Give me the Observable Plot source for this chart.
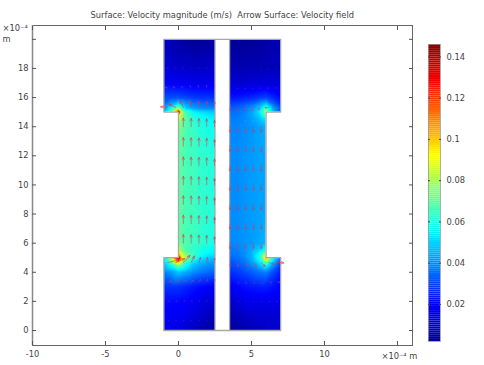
<!DOCTYPE html>
<html>
<head>
<meta charset="utf-8">
<script src="https://cdn.jsdelivr.net/npm/d3@7"></script>
<script src="https://cdn.jsdelivr.net/npm/@observablehq/plot@0.6"></script>
<style>
html,body{margin:0;padding:0;background:#fff;}
#wrap{position:relative;width:484px;height:365px;overflow:hidden;}
#wrap svg{position:absolute;left:0;top:0;background:transparent;font-family:"DejaVu Sans",sans-serif;}
</style>
</head>
<body>
<div id="wrap"></div>
<script>
// Speed field, in thousandths of m/s
const rowY = [20,19,18,17,16,15.5,15.25,15,14.75,14.5,14,12,10,8,6,5.5,5.25,5,4.75,4.5,4,3,2,1,0];
const leftX = [-1,-0.5,0,0.25,0.5,1,1.5,2,2.5];
const rightX = [3.5,4,4.5,5,5.5,5.75,6,6.5,7];
const leftField = [
 [11,8,6,5,4,3,3,4,6],
 [12,10,8,8,8,7,7,8,9],
 [14,13,12,12,12,11,11,12,13],
 [20,19,18,18,18,17,17,17,17],
 [30,31,31,30,29,28,27,27,27],
 [37,46,56,49,44,39,37,36,36],
 [42,58,80,60,50,44,41,40,40],
 [44,75,146,80,66,56,52,50,48],
 [98,98,98,76,68,60,56,54,52],
 [86,86,86,73,68,62,59,56,54],
 [74,74,74,70,67,64,61,59,57],
 [69,69,69,68,66,65,63,62,60],
 [69,69,69,68,66,65,63,62,60],
 [69,69,69,68,66,65,63,62,60],
 [72,72,72,68,67,65,63,61,59],
 [85,85,85,74,68,63,60,57,55],
 [105,105,105,85,74,65,59,55,53],
 [52,90,146,95,78,62,54,50,48],
 [52,72,108,80,66,54,48,45,44],
 [46,58,78,66,58,48,44,41,40],
 [38,42,48,46,44,40,37,35,34],
 [27,27,27,26,25,23,21,20,19],
 [21,21,21,20,20,18,16,14,13],
 [19,19,18,18,17,15,12,10,8],
 [17,16,15,14,12,10,8,6,4]
];
const rightField = [
 [4,3,3,3,4,5,6,7,8],
 [6,5,5,6,6,7,7,8,8],
 [8,8,8,8,8,9,9,9,9],
 [13,13,13,14,14,14,14,14,14],
 [23,23,24,25,27,28,29,25,21],
 [30,31,33,36,42,47,52,36,27],
 [33,34,36,41,48,56,66,44,31],
 [35,36,38,43,52,62,84,46,32],
 [37,37,39,43,49,56,68,68,68],
 [38,38,39,42,46,50,54,54,54],
 [39,39,40,41,43,44,46,46,46],
 [40,40,41,42,43,43,44,44,44],
 [40,40,41,42,43,43,44,44,44],
 [40,40,41,42,43,43,44,44,44],
 [39,40,41,42,44,45,47,47,47],
 [37,38,40,44,50,54,60,60,60],
 [36,37,40,45,56,66,78,78,78],
 [34,36,39,45,58,72,108,56,36],
 [32,34,37,43,54,62,80,50,32],
 [30,32,35,40,47,52,58,42,28],
 [26,28,30,33,36,37,38,30,24],
 [18,20,22,23,24,24,24,22,20],
 [12,14,16,17,17,17,17,17,16],
 [7,9,11,12,13,13,13,13,13],
 [4,5,7,9,10,11,12,12,12]
];
// Arrow samples: [x, y, u, v] with u, v in thousandths of m/s
const arrowX = [-0.733,-0.2,0.333,0.867,1.4,1.933,2.467,3.533,4.067,4.6,5.133,5.667,6.2,6.733];
const arrowRowY = [18,16.667,15.333,14,12.667,11.333,10,8.667,7.333,6,4.667,3.333,2,0.667];
const arrowU = [
 [-6,-5,-4,-3,-2,-1,0,0,-1,-1,-2,-3,-4,-4],
 [-24,-20,-16,-10,-6,-2,0,-1,-2,-4,-6,-8,-10,-11],
 [-55,-50,-28,-10,-3,0,0,0,0,-3,-10,-22,-30,-30],
 [null,null,0,0,0,0,0,0,0,0,0,0,null,null],
 [null,null,0,0,0,0,0,0,0,0,0,0,null,null],
 [null,null,0,0,0,0,0,0,0,0,0,0,null,null],
 [null,null,0,0,0,0,0,0,0,0,0,0,null,null],
 [null,null,0,0,0,0,0,0,0,0,0,0,null,null],
 [null,null,0,0,0,0,0,0,0,0,0,0,null,null],
 [null,null,0,0,0,0,0,0,0,0,0,0,null,null],
 [85,70,50,25,12,5,0,0,3,12,22,30,40,55],
 [30,28,26,20,12,6,2,2,4,6,10,14,20,25],
 [13,12,11,9,6,4,1,1,1,2,3,4,5,6],
 [6,5,5,4,3,2,1,0,1,1,1,1,2,2]
];
const arrowV = [
 [1,1,2,3,4,4,5,0,0,0,-1,-1,-1,0],
 [4,8,12,16,18,20,18,-5,-6,-6,-5,-4,-3,-1],
 [4,22,50,50,48,45,45,-28,-30,-30,-28,-18,-4,-1],
 [null,null,66,64,62,60,50,-42,-42,-42,-42,-42,null,null],
 [null,null,66,64,62,60,50,-42,-42,-42,-42,-42,null,null],
 [null,null,66,64,62,60,50,-42,-42,-42,-42,-42,null,null],
 [null,null,66,64,62,60,50,-42,-42,-42,-42,-42,null,null],
 [null,null,66,64,62,60,50,-42,-42,-42,-42,-42,null,null],
 [null,null,66,64,62,60,50,-42,-42,-42,-42,-42,null,null],
 [null,null,66,64,62,60,50,-42,-42,-42,-42,-42,null,null],
 [20,30,55,50,40,38,35,-25,-30,-30,-30,-30,-12,-2],
 [6,8,10,12,18,20,22,-12,-12,-12,-12,-10,-6,-2],
 [2,2,3,4,5,6,7,-4,-4,-4,-4,-3,-2,-1],
 [1,1,1,1,2,2,2,-2,-2,-2,-2,-1,-1,0]
];
// Outline of the two channels and the empty notches
const outlineX = [-1,2.5,2.5,-1,-1,0,0,-1,-1, 3.5,7,7,6,6,7,7,3.5,3.5, 2.5,3.5, 2.5,3.5];
const outlineY = [0,0,20,20,15,15,5,5,0, 0,0,5,5,15,15,20,20,0, 0,0, 20,20];
const outlineId = ["l","l","l","l","l","l","l","l","l","r","r","r","r","r","r","r","r","r","b","b","t","t"];
const notchX1 = [-1.2,6], notchX2 = [0,7.2], notchY1 = [5,5], notchY2 = [15,15];
// Axis ticks and texts
const xTicks = [-10,-5,0,5,10,15];
const xLabels = [-10,-5,0,5,10];
const yTicks = [0,2,4,6,8,10,12,14,16,18,20];
const yLabels = [0,2,4,6,8,10,12,14,16,18];
const barTicks = [0.02,0.04,0.06,0.08,0.1,0.12,0.14];
// Rainbow colour table
const colorDomain = [0.002,0.02,0.056,0.074,0.092,0.128,0.146];
const colorRange = ["#00008f","#0000ff","#00ffff","#7fff7f","#ffff00","#ff0000","#7f0000"];
const colorScale = {type:"linear",domain:colorDomain,range:colorRange,interpolate:"rgb"};

const textColor = "#444";
const fs = 8.3;
const fieldTable = (xs, field) => rowY.flatMap((y,i)=>xs.map((x,j)=>({x,y,s:field[i][j]/1000})));
const arrows = arrowRowY.flatMap((y,i)=>arrowX.map((x,j)=>({x,y,u:arrowU[i][j],v:arrowV[i][j]})))
  .filter(d=>d.u!==null)
  .map(d=>({x:d.x,y:d.y,m:Math.hypot(d.u,d.v)/1000,a:Math.atan2(d.u,d.v)*180/Math.PI}));
const outline = outlineX.map((x,i)=>({x,y:outlineY[i],id:outlineId[i]}));
const notches = notchX1.map((x,i)=>({x1:x,x2:notchX2[i],y1:notchY1[i],y2:notchY2[i]}));
// Thin arrow with a small narrow head
const thinArrow = {draw(c,l){
  const h=Math.min(2.4,l*0.35), w=h*0.45;
  c.moveTo(0,0);c.lineTo(0,-l);
  c.moveTo(-w,-l+h);c.lineTo(0,-l);c.lineTo(w,-l+h);
}};

const main = Plot.plot({
  width:484,height:365,
  marginLeft:32,marginRight:72,marginTop:25,marginBottom:20,
  style:{fontSize:fs+"px",fontFamily:"DejaVu Sans, sans-serif",color:textColor,background:"transparent"},
  x:{domain:[-10,16.03],axis:null},
  y:{domain:[-1.03,20.95],axis:null},
  color:colorScale,
  opacity:{type:"identity"},
  length:{type:"linear",domain:[0,0.1],range:[0,13]},
  marks:[
    Plot.raster(fieldTable(leftX,leftField),{x:"x",y:"y",fill:"s",x1:-1,x2:2.5,y1:0,y2:20,interpolate:"barycentric"}),
    Plot.raster(fieldTable(rightX,rightField),{x:"x",y:"y",fill:"s",x1:3.5,x2:7,y1:0,y2:20,interpolate:"barycentric"}),
    Plot.rect(notches,{x1:"x1",x2:"x2",y1:"y1",y2:"y2",fill:"white"}),
    Plot.line(outline,{x:"x",y:"y",z:"id",stroke:"#a8a8a8",strokeWidth:1.3}),
    Plot.vector(arrows,{x:"x",y:"y",length:"m",rotate:"a",anchor:"start",shape:thinArrow,stroke:"#e8304a",strokeOpacity:d=>Math.min(0.7,0.12+d.m*12),strokeWidth:0.8}),
    Plot.frame({stroke:"#666",strokeWidth:1}),
    Plot.ruleX([-10],{stroke:"#888",strokeWidth:1.5}),
    Plot.axisX(xTicks,{anchor:"bottom",tickSize:-4,label:null,tickFormat:()=>"",stroke:"#555"}),
    Plot.axisX(xTicks,{anchor:"top",tickSize:-4,label:null,tickFormat:()=>"",stroke:"#555"}),
    Plot.axisX(xLabels,{anchor:"bottom",tickSize:0,tickPadding:6,label:null,fill:textColor,tickFormat:d=>String(d)}),
    Plot.axisY(yTicks,{anchor:"left",tickSize:-4,label:null,tickFormat:()=>"",stroke:"#555"}),
    Plot.axisY(yTicks,{anchor:"right",tickSize:-4,label:null,tickFormat:()=>"",stroke:"#555"}),
    Plot.axisY(yLabels,{anchor:"left",tickSize:0,tickPadding:4,label:null,fill:textColor,tickFormat:d=>String(d)}),
    Plot.text(["Surface: Velocity magnitude (m/s)  Arrow Surface: Velocity field"],{x:3,y:21.63,fill:textColor,fontSize:fs,textAnchor:"middle"}),
    Plot.text(["×10⁻⁴"],{x:-10,y:20.75,dx:-30,textAnchor:"start",fill:textColor,fontSize:fs}),
    Plot.text(["m"],{x:-10,y:20,dx:-30,textAnchor:"start",fill:textColor,fontSize:fs}),
    Plot.text(["×10⁻⁴ m"],{x:15,y:-1.03,dx:-16,dy:11,textAnchor:"start",fill:textColor,fontSize:fs})
  ]
});
document.getElementById("wrap").appendChild(main);

// Colour bar with its own value axis
const barValues = d3.range(0.002,0.146,0.001);
const bar = Plot.plot({
  width:484,height:365,
  marginLeft:428,marginRight:44,marginTop:44,marginBottom:24,
  style:{fontSize:fs+"px",fontFamily:"DejaVu Sans, sans-serif",color:textColor,background:"transparent"},
  x:{domain:[0,1],axis:null},
  y:{domain:[0.002,0.146],axis:null},
  color:colorScale,
  marks:[
    Plot.rect(barValues,{x1:0,x2:1,y1:d=>d,y2:d=>d+0.001,fill:d=>d+0.0005}),
    Plot.frame({stroke:"#999",strokeWidth:0.8}),
    Plot.axisY(barTicks,{anchor:"right",tickSize:-2,label:null,tickFormat:()=>"",stroke:"#444"}),
    Plot.axisY(barTicks,{anchor:"right",tickSize:0,tickPadding:6,label:null,fill:textColor,tickFormat:d=>String(d)}),
    Plot.axisY(barTicks,{anchor:"left",tickSize:-2,label:null,tickFormat:()=>"",stroke:"#444"})
  ]
});
document.getElementById("wrap").appendChild(bar);
</script>
</body>
</html>
